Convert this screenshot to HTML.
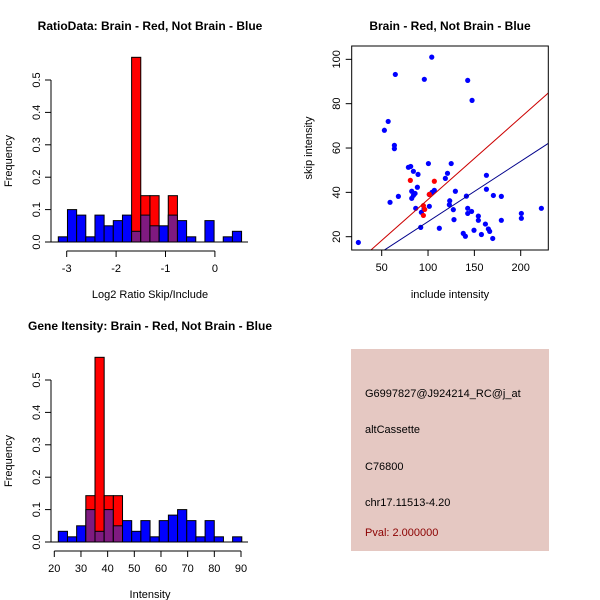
<!DOCTYPE html>
<html><head><meta charset="utf-8"><style>
body{margin:0;background:#fff}
svg{display:block;font-family:"Liberation Sans",sans-serif}
</style></head><body>
<svg id="c" width="600" height="600" viewBox="0 0 600 600">
<rect width="600" height="600" fill="#fff"/>
<g id="p1"></g>
<g id="p2"></g>
<g id="p3"></g>
<g>
<rect x="351" y="349" width="198" height="202" fill="#e5c8c2"/>
<text x="365" y="397" font-size="11" fill="#000">G6997827@J924214_RC@j_at</text>
<text x="365" y="433" font-size="11" fill="#000">altCassette</text>
<text x="365" y="470" font-size="11" fill="#000">C76800</text>
<text x="365" y="506" font-size="11" fill="#000">chr17.11513-4.20</text>
<text x="365" y="536" font-size="11" fill="#8b0000">Pval: 2.000000</text>
</g>
</svg>
<script>
const ratioBlue=[0.016,0.1,0.083,0.016,0.083,0.05,0.066,0.083,0.033,0.083,0.05,0.05,0.083,0.066,0.016,0,0.066,0,0.016,0.033];
const ratioRed=[0,0,0,0,0,0,0,0,0.57,0.143,0.143,0,0.143,0,0,0,0,0,0,0];
const ratioStart=-3.17, ratioBin=0.1855;
const ratioTicks=[-3,-2,-1,0];
const intBlue=[0.033,0.016,0.05,0.1,0.033,0.1,0.05,0.066,0.033,0.066,0.016,0.066,0.083,0.1,0.066,0.016,0.066,0.016,0,0.016];
const intRed=[0,0,0,0.143,0.57,0.143,0.143,0,0,0,0,0,0,0,0,0,0,0,0,0];
const intStart=21.5, intBin=3.44;
const intTicks=[20,30,40,50,60,70,80,90];
const freqTicks=[0,0.1,0.2,0.3,0.4,0.5];
const freqLabels=["0.0","0.1","0.2","0.3","0.4","0.5"];
const blueX=[24.8,52.9,57,64.7,63.7,63.7,59,68,78.8,81.3,84.2,89.2,88.5,82.4,86,84.2,82.4,86.7,92.8,95.7,92.1,96,100.4,104,101.4,101.4,104.3,106.8,112.2,118.7,121,125,123.4,123,127.3,128,129.5,141.4,142.8,147.5,142.8,142.8,147,138,140.3,149.6,154.3,154.3,157.6,161.9,163,163,165.1,166.5,169.8,170.5,179.1,179.1,200.7,200.7,222.3];
const blueY=[17.4,68,72,93.2,61.2,59.7,35.5,38.2,51.3,51.7,49.5,48.1,42.3,40.5,39.5,38.6,37.3,32.8,31,32.5,24.2,91,53,101,33.7,39,40,40.9,23.8,46.3,48.6,53,36.2,34.4,32.2,27.7,40.5,38.3,90.5,81.5,32.8,30.5,31.4,21.5,20.2,22.9,29.3,27.4,21,25.7,47.7,41.4,23.5,22.4,19.2,38.6,38.2,27.4,30.5,28.3,32.8];
const redX=[80.9,106.8,101.4,95,96.4,95];
const redY=[45.4,45,39.1,34,32.3,29.6];
const redFit=[-0.2,0.37];
const blueFit=[-0.4,0.272];
const scatTicksX=[50,100,150,200];
const scatTicksY=[20,40,60,80,100];

const NS="http://www.w3.org/2000/svg";
function mk(parent,tag,at){const e=document.createElementNS(NS,tag);for(const k in at)e.setAttribute(k,at[k]);parent.appendChild(e);return e;}

function hist(gid,oy,blue,red,start,bin,ticks,xa,xb,title,xlabel){
  const g=document.getElementById(gid);
  const X=v=>xa+(v-ticks[0])*xb;
  const base=oy+242, Y=v=>base-v*324;
  const t=mk(g,'text',{x:150,y:oy+30,'text-anchor':'middle','font-size':12,'font-weight':'bold'});t.textContent=title;
  
  
  for(let i=0;i<blue.length;i++){
    const x0=X(start+i*bin), w=bin*xb, r=red[i], b=blue[i];
    if(r>0){const e=mk(g,'rect',{x:x0,y:Y(r),width:w,height:Y(0)-Y(r),fill:'#ff0000',stroke:'#000','stroke-width':1});
      
      }
    if(b>0){const e=mk(g,'rect',{x:x0,y:Y(b),width:w,height:Y(0)-Y(b),fill:(r>0?'#7f1a80':'#0000ff'),stroke:'#000','stroke-width':1});
      
      }
  }
  mk(g,'line',{x1:51,x2:248,y1:base,y2:base,stroke:'#000'});
  mk(g,'line',{x1:51,x2:51,y1:Y(0),y2:Y(0.5),stroke:'#000'});
  freqTicks.forEach((v,i)=>{mk(g,'line',{x1:45,x2:51,y1:Y(v),y2:Y(v),stroke:'#000'});
    const l=mk(g,'text',{x:0,y:0,'font-size':11,'text-anchor':'middle',transform:`translate(40,${Y(v)}) rotate(-90)`});l.textContent=freqLabels[i];
    
    });
  const ya=oy+251;
  mk(g,'line',{x1:X(ticks[0]),x2:X(ticks[ticks.length-1]),y1:ya,y2:ya,stroke:'#000'});
  ticks.forEach(v=>{mk(g,'line',{x1:X(v),x2:X(v),y1:ya,y2:ya+6,stroke:'#000'});
    const l=mk(g,'text',{x:X(v),y:ya+21,'font-size':11,'text-anchor':'middle'});l.textContent=v;
    
    });
  const xl=mk(g,'text',{x:150,y:oy+298,'font-size':11,'text-anchor':'middle'});xl.textContent=xlabel;
  
  
  const yl=mk(g,'text',{x:0,y:0,'font-size':11,'text-anchor':'middle',transform:`translate(12,${oy+161}) rotate(-90)`});yl.textContent='Frequency';
  
  
}
hist('p1',0,ratioBlue,ratioRed,ratioStart,ratioBin,ratioTicks,66.7,49.4,'RatioData: Brain - Red, Not Brain - Blue','Log2 Ratio Skip/Include');
hist('p3',300,intBlue,intRed,intStart,intBin,intTicks,54.3,2.667,'Gene Itensity: Brain - Red, Not Brain - Blue','Intensity');

(function(){
  const g=document.getElementById('p2');
  const L=351.7,R=548.3,T=46,B=250;
  const X=v=>381.7+(v-50)*0.9267, Y=v=>236.7-(v-20)*2.217;
  const t=mk(g,'text',{x:450,y:30,'text-anchor':'middle','font-size':12,'font-weight':'bold'});t.textContent='Brain - Red, Not Brain - Blue';
  
  
  mk(g,'clipPath',{id:'cp'}).appendChild(document.createElementNS(NS,'rect'));
  const cr=g.querySelector('#cp rect');cr.setAttribute('x',L);cr.setAttribute('y',T);cr.setAttribute('width',R-L);cr.setAttribute('height',B-T);
  blueX.forEach((v,i)=>{const c=mk(g,'circle',{cx:X(v),cy:Y(blueY[i]),r:2.6,fill:'#0000ff'});
    
    });
  redX.forEach((v,i)=>{const c=mk(g,'circle',{cx:X(v),cy:Y(redY[i]),r:2.6,fill:'#ff0000'});
    
    });
  const x0=0,x1=260;
  const rl=mk(g,'line',{x1:X(x0),y1:Y(redFit[0]+redFit[1]*x0),x2:X(x1),y2:Y(redFit[0]+redFit[1]*x1),stroke:'#cc0000','clip-path':'url(#cp)'});
  
  
  const bl=mk(g,'line',{x1:X(x0),y1:Y(blueFit[0]+blueFit[1]*x0),x2:X(x1),y2:Y(blueFit[0]+blueFit[1]*x1),stroke:'#00008b','clip-path':'url(#cp)'});
  
  
  mk(g,'rect',{x:L,y:T,width:R-L,height:B-T,fill:'none',stroke:'#000'});
  scatTicksX.forEach(v=>{mk(g,'line',{x1:X(v),x2:X(v),y1:B,y2:B+6,stroke:'#000'});
    const l=mk(g,'text',{x:X(v),y:B+21,'font-size':11,'text-anchor':'middle'});l.textContent=v;
    
    });
  scatTicksY.forEach(v=>{mk(g,'line',{x1:L-6,x2:L,y1:Y(v),y2:Y(v),stroke:'#000'});
    const l=mk(g,'text',{x:0,y:0,'font-size':11,'text-anchor':'middle',transform:`translate(340,${Y(v)}) rotate(-90)`});l.textContent=v;
    
    });
  const xl=mk(g,'text',{x:450,y:298,'font-size':11,'text-anchor':'middle'});xl.textContent='include intensity';
  
  
  const yl=mk(g,'text',{x:0,y:0,'font-size':11,'text-anchor':'middle',transform:`translate(312,148) rotate(-90)`});yl.textContent='skip intensity';
  
  
})();
</script>
</body></html>
